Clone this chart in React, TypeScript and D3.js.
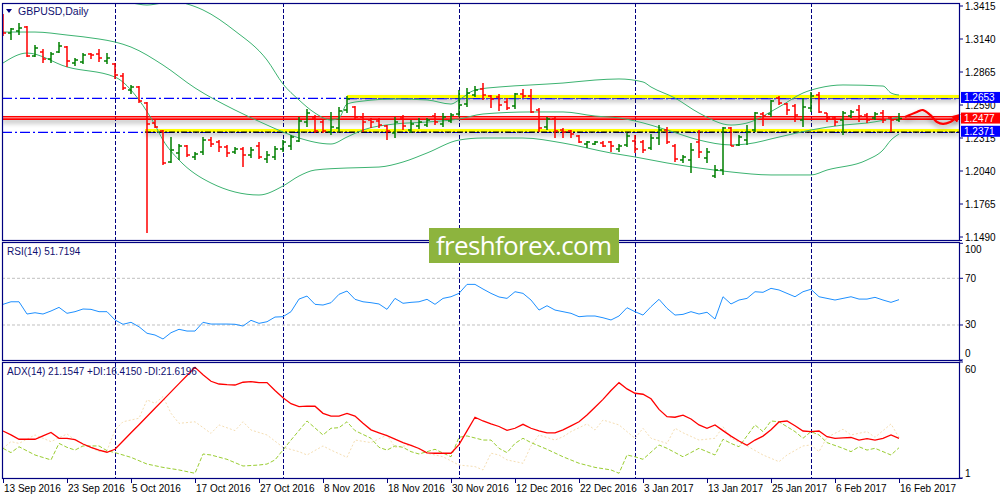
import React from 'react';
import * as d3 from 'd3';

// GBPUSD daily bars, 13 Sep 2016 .. 16 Feb 2017
const open = [1.3332,1.3190,1.3207,1.3240,1.2998,1.3032,1.2973,1.3032,1.3073,1.2940,
  1.2948,1.3015,1.3015,1.2957,1.2932,1.2832,1.2715,1.2740,1.2607,1.2440,
  1.2373,1.2115,1.2190,1.2248,1.2157,1.2198,1.2298,1.2282,1.2240,1.2198,
  1.2223,1.2173,1.2248,1.2140,1.2157,1.2223,1.2248,1.2290,1.2448,1.2482,
  1.2448,1.2365,1.2398,1.2548,1.2573,1.2490,1.2465,1.2457,1.2415,1.2357,
  1.2482,1.2382,1.2415,1.2423,1.2498,1.2432,1.2457,1.2515,1.2598,1.2673,
  1.2723,1.2665,1.2657,1.2615,1.2582,1.2682,1.2665,1.2548,1.2407,1.2473,
  1.2382,1.2373,1.2332,1.2265,1.2265,1.2273,1.2282,1.2223,1.2257,1.2290,
  1.2282,1.2232,1.2315,1.2382,1.2248,1.2132,1.2132,1.2282,1.2148,1.1998,
  1.2048,1.2398,1.2257,1.2298,1.2382,1.2515,1.2515,1.2648,1.2598,1.2582,
  1.2465,1.2565,1.2673,1.2523,1.2482,1.2465,1.2498,1.2548,1.2507,1.2482,
  1.2523,1.2482,1.2465];
const high = [1.3348,1.3232,1.3273,1.3248,1.3090,1.3057,1.3032,1.3115,1.3082,1.2982,
  1.3023,1.3023,1.3057,1.3023,1.2940,1.2857,1.2757,1.2748,1.2615,1.2473,
  1.2382,1.2323,1.2265,1.2257,1.2198,1.2323,1.2323,1.2298,1.2257,1.2240,
  1.2240,1.2240,1.2282,1.2207,1.2248,1.2298,1.2340,1.2490,1.2557,1.2507,
  1.2465,1.2532,1.2573,1.2665,1.2582,1.2523,1.2482,1.2482,1.2423,1.2490,
  1.2507,1.2465,1.2482,1.2482,1.2523,1.2523,1.2523,1.2715,1.2732,1.2748,
  1.2773,1.2673,1.2682,1.2648,1.2690,1.2723,1.2723,1.2565,1.2490,1.2490,
  1.2398,1.2382,1.2340,1.2290,1.2290,1.2290,1.2290,1.2265,1.2357,1.2340,
  1.2298,1.2348,1.2423,1.2407,1.2265,1.2173,1.2273,1.2382,1.2232,1.2090,
  1.2407,1.2407,1.2340,1.2423,1.2532,1.2532,1.2632,1.2665,1.2607,1.2598,
  1.2648,1.2698,1.2698,1.2523,1.2490,1.2540,1.2548,1.2590,1.2523,1.2532,
  1.2548,1.2490,1.2523];
const low = [1.3165,1.3132,1.3173,1.2990,1.2990,1.2940,1.2940,1.3023,1.2907,1.2915,
  1.2932,1.2973,1.2948,1.2932,1.2807,1.2715,1.2682,1.2607,1.1523,1.2398,
  1.2090,1.2107,1.2132,1.2157,1.2132,1.2173,1.2240,1.2198,1.2157,1.2182,
  1.2073,1.2148,1.2140,1.2107,1.2132,1.2198,1.2215,1.2282,1.2407,1.2357,
  1.2357,1.2340,1.2365,1.2523,1.2465,1.2365,1.2398,1.2398,1.2298,1.2315,
  1.2382,1.2357,1.2390,1.2407,1.2423,1.2407,1.2440,1.2490,1.2573,1.2657,
  1.2632,1.2565,1.2540,1.2548,1.2557,1.2648,1.2523,1.2365,1.2382,1.2315,
  1.2315,1.2315,1.2273,1.2232,1.2257,1.2240,1.2198,1.2198,1.2240,1.2190,
  1.2190,1.2215,1.2257,1.2265,1.2115,1.2107,1.2023,1.2148,1.2107,1.1982,
  1.2007,1.2248,1.2248,1.2257,1.2365,1.2415,1.2490,1.2590,1.2507,1.2448,
  1.2407,1.2532,1.2523,1.2448,1.2415,1.2340,1.2482,1.2448,1.2440,1.2465,
  1.2440,1.2365,1.2448];
const close = [1.3190,1.3223,1.3232,1.2998,1.3065,1.2973,1.3015,1.3082,1.2957,1.2965,
  1.3007,1.3007,1.2982,1.2982,1.2840,1.2732,1.2740,1.2623,1.2432,1.2407,
  1.2107,1.2215,1.2248,1.2173,1.2182,1.2298,1.2265,1.2240,1.2190,1.2223,
  1.2173,1.2215,1.2157,1.2173,1.2223,1.2282,1.2323,1.2457,1.2523,1.2373,
  1.2373,1.2407,1.2540,1.2640,1.2490,1.2448,1.2448,1.2423,1.2373,1.2448,
  1.2415,1.2432,1.2448,1.2465,1.2448,1.2490,1.2507,1.2590,1.2690,1.2715,
  1.2673,1.2640,1.2590,1.2565,1.2682,1.2665,1.2532,1.2398,1.2473,1.2373,
  1.2365,1.2348,1.2282,1.2282,1.2282,1.2248,1.2248,1.2248,1.2332,1.2223,
  1.2215,1.2315,1.2382,1.2282,1.2140,1.2157,1.2215,1.2198,1.2198,1.2048,
  1.2398,1.2248,1.2323,1.2365,1.2523,1.2498,1.2623,1.2607,1.2548,1.2507,
  1.2573,1.2665,1.2532,1.2482,1.2448,1.2523,1.2532,1.2498,1.2465,1.2515,
  1.2465,1.2465,1.2477];

// Bollinger bands, [bar, price]
const bbUpper: [number, number][] = [[0,1.3440],[4,1.3440],[8,1.3448],[12,1.3457],[16,1.3440],[18,1.3423],
  [20,1.3440],[22,1.3448],[23,1.3432],[25,1.3382],[29,1.3207],[33,1.2965],[35,1.2765],[37,1.2632],
  [39,1.2523],[41,1.2465],[42,1.2482],[43,1.2598],[45,1.2623],[49,1.2640],[53,1.2632],[56,1.2598],
  [57,1.2632],[59,1.2715],[62,1.2740],[66,1.2757],[70,1.2773],[74,1.2798],[77,1.2807],[80,1.2782],
  [81,1.2740],[84,1.2648],[87,1.2523],[91,1.2423],[93,1.2440],[97,1.2573],[100,1.2690],[102,1.2732],
  [105,1.2757],[110,1.2748],[111,1.2690],[112,1.2673]];
const bbMiddle: [number, number][] = [[0,1.3198],[4,1.3198],[8,1.3173],[12,1.3140],[14,1.3115],[16,1.3073],
  [20,1.2923],[24,1.2732],[29,1.2548],[33,1.2423],[35,1.2365],[37,1.2315],[41,1.2265],[43,1.2323],
  [45,1.2382],[49,1.2432],[53,1.2448],[57,1.2473],[60,1.2515],[66,1.2532],[70,1.2532],[74,1.2498],
  [77,1.2482],[79,1.2457],[83,1.2382],[87,1.2298],[91,1.2257],[93,1.2265],[97,1.2323],[101,1.2382],
  [105,1.2423],[108,1.2440],[112,1.2490]];
const bbLower: [number, number][] = [[0,1.2940],[3,1.3023],[8,1.2907],[14,1.2823],[17,1.2632],[19,1.2423],
  [20,1.2298],[22,1.2132],[26,1.1940],[32,1.1840],[35,1.1915],[37,1.1998],[39,1.2048],[43,1.2065],
  [47,1.2073],[50,1.2115],[53,1.2190],[57,1.2298],[60,1.2315],[65,1.2315],[70,1.2273],[76,1.2190],
  [79,1.2157],[83,1.2107],[87,1.2065],[91,1.2032],[96,1.2007],[101,1.2007],[103,1.2048],[108,1.2132],
  [110,1.2215],[111,1.2298],[112,1.2348]];

const rsi = [47.7,49.9,49.9,39.4,40.5,39.4,42.0,45.1,40.0,41.4,
  43.7,43.4,41.4,41.4,34.3,30.6,32.3,28.5,22.9,21.4,
  18.0,23.4,26.3,24.8,24.8,32.3,30.8,30.8,30.8,30.6,
  29.1,34.0,31.4,32.8,36.8,37.1,41.4,52.2,54.8,47.7,
  47.1,49.1,56.3,59.1,52.0,49.9,49.1,48.0,43.4,52.8,
  48.6,49.4,49.9,52.0,47.7,52.8,54.2,57.1,64.8,64.8,
  60.8,57.1,54.0,52.8,58.5,57.1,51.4,42.8,46.5,42.8,
  41.4,40.0,37.1,37.7,37.7,36.2,34.3,37.7,44.8,41.4,
  38.5,45.7,52.0,44.3,38.5,39.1,41.4,39.4,40.9,35.1,
  54.2,48.0,51.4,52.8,58.5,58.0,61.4,60.0,57.1,54.2,
  58.5,60.6,54.2,52.8,51.4,52.8,54.2,52.2,52.2,53.7,
  51.4,49.4,51.7];

const adx = [24.9,22.9,20.7,20.7,20.7,22.4,24.2,21.2,21.2,20.5,
  18.3,16.6,15.2,14.1,15.6,19.8,24.0,28.1,32.3,36.5,
  40.6,44.8,49.0,53.1,57.3,53.5,50.2,48.8,48.5,48.3,
  49.7,50.0,49.5,49.5,45.5,41.8,38.8,37.3,37.6,37.5,
  33.9,32.5,32.5,33.9,32.5,28.8,25.5,24.0,22.5,20.8,
  19.0,17.6,16.0,13.8,13.6,13.6,13.6,18.0,25.0,31.9,
  30.0,28.5,27.2,25.2,26.3,28.3,26.3,25.0,24.0,24.0,
  25.5,27.5,29.6,33.0,37.0,41.0,45.5,49.5,46.3,44.1,
  43.6,41.3,35.9,32.2,31.9,33.0,31.0,28.0,26.3,28.0,
  25.1,22.3,19.8,17.6,20.3,22.3,25.5,29.5,30.0,27.6,
  24.9,24.6,24.9,22.0,21.2,21.4,21.6,20.3,21.0,20.3,
  21.2,22.9,21.2];
const plusDI: [number, number][] = [[0,16.1],[1,13.9],[2,16.9],[4,12.7],[6,10.2],[7,18.6],[8,16.6],[9,15.2],
  [10,17.3],[12,17.3],[13,14.9],[14,13.9],[16,11.5],[18,8.1],[20,6.4],[22,5.1],[24,3.4],[25,13.2],
  [26,12.7],[28,10.5],[30,7.1],[32,7.6],[33,8.1],[34,10.2],[36,20.3],[38,30.0],[40,22.9],[41,26.3],
  [42,26.6],[43,29.6],[44,25.1],[46,21.2],[47,16.6],[48,15.2],[49,17.3],[50,16.6],[51,14.4],[52,13.2],
  [54,15.6],[56,11.8],[57,21.7],[58,22.4],[60,20.3],[61,20.3],[62,16.1],[63,13.9],[64,18.6],[65,21.2],
  [66,19.0],[68,15.6],[70,11.8],[72,8.5],[74,6.4],[76,5.1],[77,3.4],[78,12.7],[79,11.8],[80,10.5],
  [82,17.8],[83,16.1],[85,11.8],[87,16.1],[89,12.7],[90,20.7],[91,18.6],[92,16.9],[94,28.0],[95,24.6],
  [96,30.0],[97,29.6],[99,24.6],[100,21.2],[101,24.6],[102,22.9],[103,19.0],[105,16.1],[106,14.4],
  [107,16.9],[108,15.2],[109,16.1],[111,12.7],[112,16.4]];
const minusDI: [number, number][] = [[0,16.1],[1,19.5],[2,18.6],[4,22.9],[6,19.5],[8,23.4],[9,20.3],[11,16.6],
  [12,14.4],[13,14.9],[14,25.4],[15,29.6],[17,31.4],[18,40.7],[19,39.0],[20,42.4],[21,33.9],[22,28.8],
  [24,29.6],[26,23.7],[27,28.0],[29,25.1],[30,29.6],[31,25.4],[33,22.9],[35,16.6],[37,14.4],[38,12.7],
  [40,17.3],[41,15.2],[43,11.5],[44,20.3],[46,19.0],[48,22.9],[49,16.6],[51,17.8],[53,13.6],[55,11.8],
  [57,7.6],[59,6.8],[60,5.1],[61,13.6],[62,12.7],[63,10.2],[65,8.5],[66,17.3],[67,22.9],[69,20.3],
  [70,22.0],[71,24.6],[73,28.5],[74,25.4],[75,30.5],[77,28.0],[79,21.2],[80,26.3],[81,21.2],[83,18.6],
  [84,26.3],[85,24.0],[87,20.3],[89,21.2],[90,27.1],[91,21.2],[93,17.3],[95,12.7],[97,9.3],[98,12.7],
  [100,17.3],[101,17.8],[102,14.4],[103,21.7],[105,25.8],[106,22.9],[108,24.6],[109,21.7],[111,28.5],
  [112,21.6]];

// chart objects
const levelPrices = [1.2653, 1.2371];
const yellowStart = [43, 17.75];
const redLevels = [1.2492, 1.2472];
const bidPrice = 1.2477;
const projection: [number, number][] = [[112.75,1.2490],[114.25,1.2532],[115,1.2548],[115.9,1.2507],
  [116.75,1.2448],[117.5,1.2432],[118.4,1.2448],[119.3,1.2492]];

const priceTicks = [1.3415, 1.3140, 1.2865, 1.2590, 1.2315, 1.2040, 1.1765, 1.1490];
const rsiTicks = [100, 70, 30, 0];
const rsiLevels = [70, 30];
const adxTicks = [60, 1];
const sepIdx = [14, 35, 57, 79, 101];
const tickIdx = [0, 8, 16, 24, 32, 40, 48, 56, 64, 72, 80, 88, 96, 104, 112];
const tickLabels = ['13 Sep 2016', '23 Sep 2016', '5 Oct 2016', '17 Oct 2016', '27 Oct 2016', '8 Nov 2016',
  '18 Nov 2016', '30 Nov 2016', '12 Dec 2016', '22 Dec 2016', '3 Jan 2017', '13 Jan 2017', '25 Jan 2017',
  '6 Feb 2017', '16 Feb 2017'];

const L = 2, R = 959;
const main = { top: 3, bottom: 240 };
const rsiP = { top: 242, bottom: 360 };
const adxP = { top: 362, bottom: 478 };
const NAVY = '#000080';

const x = d3.scaleLinear().domain([0, 112]).range([3, 899]);
const yP = d3.scaleLinear().domain([1.1490, 1.3415]).range([237, 6]);
const yR = d3.scaleLinear().domain([0, 100]).range([360, 243.3]);
const yA = d3.scaleLinear().domain([1, 60]).range([478, 362]);

export default function App() {
  const bars = d3.range(open.length);
  const band = d3.line<[number, number]>().x(d => x(d[0])).y(d => yP(d[1])).curve(d3.curveMonotoneX);
  const rsiLine = d3.line<number>().x((_, i) => x(i)).y(d => yR(d));
  const adxLine = d3.line<number>().x((_, i) => x(i)).y(d => yA(d));
  const diLine = d3.line<[number, number]>().x(d => x(d[0])).y(d => yA(d[1]));
  const projLine = d3.line<[number, number]>().x(d => x(d[0])).y(d => yP(d[1])).curve(d3.curveCatmullRom);

  const barPath = (i: number) => {
    const c = x(i);
    return `M${c},${yP(high[i])}V${yP(low[i])}M${c - 3},${yP(open[i])}H${c}M${c},${yP(close[i])}H${c + 3}`;
  };

  const font = "'Liberation Sans', Arial, sans-serif";

  return (
    <svg width={1000} height={500} style={{ position: 'absolute', left: 0, top: 0, background: '#fff' }}
      fontFamily={font}>
      <defs>
        <clipPath id="mainClip"><rect x={L} y={main.top} width={R - L} height={main.bottom - main.top} /></clipPath>
        <clipPath id="adxClip"><rect x={L} y={adxP.top} width={R - L} height={adxP.bottom - adxP.top} /></clipPath>
        <filter id="shade" filterUnits="userSpaceOnUse" x={0} y={0} width={1000} height={500}>
          <feGaussianBlur in="SourceAlpha" stdDeviation={2.6} />
          <feOffset dy={3} result="blur" />
          <feComponentTransfer><feFuncA type="linear" slope={0.35} /></feComponentTransfer>
          <feMerge><feMergeNode /><feMergeNode in="SourceGraphic" /></feMerge>
        </filter>
        <marker id="arrowHead" viewBox="0 0 8 8" refX={4} refY={4} markerWidth={4} markerHeight={4} orient="auto">
          <path d="M0,0L8,4L0,8z" fill="#ff0000" />
        </marker>
      </defs>

      <rect x={0} y={0} width={1000} height={500} fill="#fff" />

      {/* period separators */}
      {sepIdx.map(i => (
        <line key={i} x1={x(i) + 0.5} x2={x(i) + 0.5} y1={main.top} y2={adxP.bottom} stroke={NAVY} strokeWidth={1}
          strokeDasharray="4,2" />
      ))}

      {/* main panel */}
      <g clipPath="url(#mainClip)">
        {levelPrices.map(p => (
          <line key={p} x1={L} x2={R} y1={yP(p) + 1} y2={yP(p) + 1} stroke="#0000ff" strokeWidth={1.2}
            strokeDasharray="10,3,2,3" />
        ))}
        <g filter="url(#shade)">
          {levelPrices.map((p, k) => (
            <line key={p} x1={x(yellowStart[k])} x2={R} y1={yP(p) - 0.8} y2={yP(p) - 0.8} stroke="#ffff00"
              strokeWidth={3.2} />
          ))}
          {redLevels.map(p => (
            <line key={p} x1={L} x2={R} y1={yP(p)} y2={yP(p)} stroke="#ff0000" strokeWidth={1.7} />
          ))}
        </g>
        <line x1={x(yellowStart[1])} x2={R} y1={yP(levelPrices[1]) + 0.8} y2={yP(levelPrices[1]) + 0.8}
          stroke="#000" strokeWidth={1.2} strokeDasharray="6,2,2,2" />
        <line x1={x(yellowStart[0])} x2={R} y1={yP(levelPrices[0]) + 1.3} y2={yP(levelPrices[0]) + 1.3}
          stroke="#0000ff" strokeWidth={1.2} strokeDasharray="10,3,2,3" />

        {[bbUpper, bbMiddle, bbLower].map((b, k) => (
          <path key={k} d={band(b) || ''} fill="none" stroke="#3cb371" strokeWidth={1} />
        ))}

        {bars.map(i => (
          <path key={i} d={barPath(i)} fill="none" strokeWidth={1.5}
            stroke={close[i] >= open[i] ? '#008000' : '#ff0000'} />
        ))}
      </g>

      <g filter="url(#shade)">
        <path d={projLine(projection) || ''} fill="none" stroke="#ff0000" strokeWidth={2.2}
          markerEnd="url(#arrowHead)" />
      </g>

      {/* RSI panel */}
      {rsiLevels.map(v => (
        <line key={v} x1={L} x2={R} y1={yR(v)} y2={yR(v)} stroke="#c0c0c0" strokeDasharray="3,2" />
      ))}
      <path d={rsiLine(rsi) || ''} fill="none" stroke="#1e90ff" strokeWidth={1} />

      {/* ADX panel */}
      <g clipPath="url(#adxClip)">
        <path d={diLine(minusDI) || ''} fill="none" stroke="#f5deb3" strokeWidth={1} strokeDasharray="2,2" />
        <path d={diLine(plusDI) || ''} fill="none" stroke="#9acd32" strokeWidth={1} strokeDasharray="4,2" />
        <path d={adxLine(adx) || ''} fill="none" stroke="#ff0000" strokeWidth={1.3} />
      </g>

      {/* frames */}
      {[main, rsiP, adxP].map((p, k) => (
        <rect key={k} x={L + 0.5} y={p.top + 0.5} width={R - L} height={p.bottom - p.top} fill="none"
          stroke={NAVY} strokeWidth={1.2} />
      ))}
      {[main.bottom, rsiP.bottom, adxP.bottom].map((yy, k) => (
        <line key={k} x1={R} x2={962} y1={yy + 0.5} y2={yy + 0.5} stroke={NAVY} />
      ))}

      {/* price axis */}
      {priceTicks.map(t => (
        <g key={t}>
          <line x1={R} x2={R + 4} y1={yP(t)} y2={yP(t)} stroke={NAVY} />
          <text x={965} y={yP(t) + 3.5} fontSize={10} fill="#000">{t.toFixed(4)}</text>
        </g>
      ))}
      {levelPrices.map(p => (
        <g key={p}>
          <rect x={961} y={yP(p) - 5.5} width={39} height={11} fill="#0000ff" />
          <text x={964} y={yP(p) + 3.5} fontSize={10} fill="#fff">{p.toFixed(4)}</text>
        </g>
      ))}
      <rect x={961} y={yP(bidPrice) - 6} width={39} height={11} fill="#ff0000" />
      <text x={964} y={yP(bidPrice) + 3} fontSize={10} fill="#fff">{bidPrice.toFixed(4)}</text>

      {/* RSI / ADX axes */}
      {rsiTicks.map(t => (
        <g key={t}>
          <line x1={R} x2={R + 4} y1={yR(t)} y2={yR(t)} stroke={NAVY} />
          <text x={965} y={Math.min(Math.max(yR(t), rsiP.top + 7), rsiP.bottom - 7) + 3.5} fontSize={10}
            fill="#000">{t}</text>
        </g>
      ))}
      {adxTicks.map(t => (
        <g key={t}>
          <line x1={R} x2={R + 4} y1={yA(t)} y2={yA(t)} stroke={NAVY} />
          <text x={965} y={Math.min(Math.max(yA(t), adxP.top + 7), adxP.bottom - 5) + 3.5} fontSize={10}
            fill="#000">{t}</text>
        </g>
      ))}

      {/* time axis */}
      {tickIdx.map((i, k) => (
        <g key={i}>
          <line x1={x(i) + 0.5} x2={x(i) + 0.5} y1={adxP.bottom} y2={adxP.bottom + 5} stroke={NAVY} />
          <text x={x(i) + 1} y={492} fontSize={10} fill="#000">{tickLabels[k]}</text>
        </g>
      ))}

      {/* titles */}
      <path d="M6,9L12,9L9,13z" fill={NAVY} />
      <text x={18} y={15} fontSize={10.5} fill="#101070">GBPUSD,Daily</text>
      <text x={7} y={255} fontSize={10} fill="#101070">RSI(14) 51.7194</text>
      <text x={7} y={375} fontSize={10} fill="#101070">ADX(14) 21.1547 +DI:16.4150 -DI:21.6196</text>

      {/* watermark */}
      <rect x={429} y={228} width={190} height={35} fill="#8db43e" />
      <text x={524} y={255} textAnchor="middle" fontSize={26} fill="#fff" fontFamily="'Open Sans', sans-serif"
        textLength={176}>freshforex.com</text>
    </svg>
  );
}
